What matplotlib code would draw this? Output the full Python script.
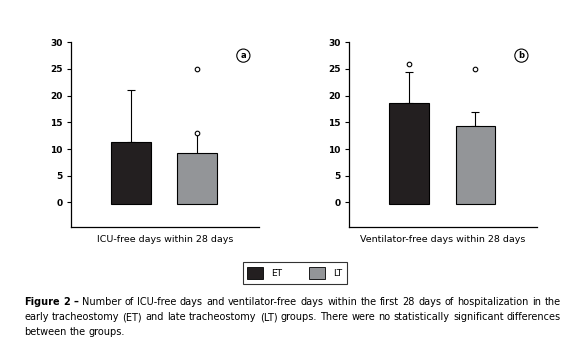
import matplotlib
matplotlib.use("Agg")
import matplotlib.pyplot as plt
from matplotlib.patches import Patch

# values
groups = ["ET", "LT"]
colors = ["#231f20", "#939598"]

icu_means = [11.3, 9.2]
icu_upper = [21.1, 13.0]
icu_outliers = [[], [13.0, 25.0]]

vent_means = [18.7, 14.4]
vent_upper = [24.4, 17.0]
vent_outliers = [[26.0], [25.0]]

panel_labels = ["a", "b"]
xlabels = ["ICU-free days within 28 days", "Ventilator-free days within 28 days"]
yticks = [0, 5, 10, 15, 20, 25, 30]

caption_head = "Figure 2 \u2013"
caption_lines = [
    "Number of ICU-free days and ventilator-free days within the first 28 days of hospitalization in the",
    "early tracheostomy (ET) and late tracheostomy (LT) groups. There were no statistically significant differences",
    "between the groups.",
]

plt.rcParams["font.family"] = ["DejaVu Sans"]

W, H = 575, 355
fig = plt.figure(figsize=(W / 100, H / 100), dpi=100)
ax_left = fig.add_axes([0.123, 0.3606, 0.3275, 0.5203])
ax_right = fig.add_axes([0.607, 0.3606, 0.327, 0.5203])


def draw_panel(ax, means, upper, outliers, label, xlabel):
    xs = range(len(means))
    base = -0.3
    for x, m, u, c, outs in zip(xs, means, upper, colors, outliers):
        ax.bar(x, m - base, bottom=base, width=0.6, color=c,
               edgecolor="black", linewidth=0.8, zorder=2)
        # no cap when an outlier circle sits on the whisker end
        cap = 0 if u in outs else 2.6
        ax.errorbar(x, m, yerr=[[0], [u - m]], fmt="none", ecolor="black",
                    elinewidth=0.8, capsize=cap, capthick=0.8, zorder=1)
        if outs:
            ax.plot([x] * len(outs), outs, "o", ms=3.3, mfc="white",
                    mec="black", mew=0.8, zorder=3)
    ax.set_xlim(-0.9, 1.925)
    ax.set_ylim(-4.6, 30)
    ax.spines["top"].set_visible(False)
    ax.spines["right"].set_visible(False)
    ax.spines["left"].set_linewidth(0.9)
    ax.spines["bottom"].set_linewidth(0.9)
    ax.set_xticks([])
    ax.set_yticks(yticks)
    ax.tick_params(axis="y", length=3, width=0.8, pad=3)
    for t in ax.get_yticklabels():
        t.set_fontsize(6.5)
        t.set_fontweight("bold")
    ax.set_xlabel(xlabel, fontsize=6.8, labelpad=6)
    ax.text(1.69, 27.5, label, fontsize=6, fontweight="bold", ha="center",
            va="center",
            bbox=dict(boxstyle="circle,pad=0.25", fc="white", ec="black", lw=0.8))


draw_panel(ax_left, icu_means, icu_upper, icu_outliers, panel_labels[0], xlabels[0])
draw_panel(ax_right, vent_means, vent_upper, vent_outliers, panel_labels[1], xlabels[1])

handles = [Patch(facecolor=c, edgecolor="black", linewidth=0.6) for c in colors]
leg = fig.legend(handles, groups, loc="center", bbox_to_anchor=(295 / W, 1 - 273 / H),
                 ncol=2, fontsize=6.5, frameon=True, fancybox=False,
                 edgecolor="black", handlelength=1.75, handleheight=1.75,
                 columnspacing=3.0, handletextpad=0.9, borderpad=0.55,
                 borderaxespad=0)
leg.get_frame().set_linewidth(0.8)


# caption, justified between two pixel columns like the printed figure
renderer = fig.canvas.get_renderer()


def caption_line(words, y_px, justify, size=7.0, x0=24, x1=561):
    texts = []
    for w, bold in words:
        texts.append(fig.text(0, 1 - y_px / H, w, fontsize=size,
                              fontweight="bold" if bold else "normal", va="center"))
    widths = [t.get_window_extent(renderer).width for t in texts]
    space = size * 100 / 72 * 0.32
    if justify and len(words) > 1:
        space = max((x1 - x0 - sum(widths)) / (len(words) - 1), 1.5)
    x = x0
    for t, w in zip(texts, widths):
        t.set_x(x / W)
        x += w + space


line1 = [(w, True) for w in caption_head.split()] + [(w, False) for w in caption_lines[0].split()]
caption_line(line1, 302, True)
caption_line([(w, False) for w in caption_lines[1].split()], 317, True)
caption_line([(w, False) for w in caption_lines[2].split()], 332, False)

fig.savefig("out.png", dpi=100)
